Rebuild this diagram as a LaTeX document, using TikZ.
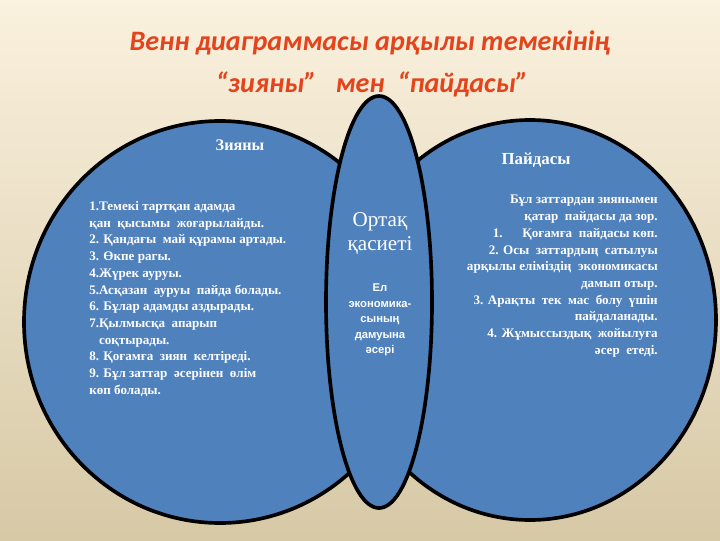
\documentclass[tikz,border=0pt]{standalone}
\usepackage{fontspec}
\setmainfont{Liberation Serif}
\newfontfamily\titlefont{Carlito}
\newfontfamily\labelfont{Liberation Sans}
\definecolor{bgtop}{HTML}{FAF1DE}
\definecolor{bgbottom}{HTML}{D7C9A6}
\definecolor{vennblue}{HTML}{4F81BD}
\definecolor{titlered}{HTML}{E4431B}

\begin{document}
\begin{tikzpicture}[x=0.025cm,y=-0.025cm,
  vennset/.style={fill=vennblue,draw=black,line width=2.6pt},
  every node/.style={text=white,inner sep=0pt},
  titletext/.style={text=titlered,font=\titlefont\bfseries\itshape\fontsize{20}{24}\selectfont},
  heading/.style={font=\bfseries\fontsize{11.5}{14}\selectfont},
  listtext/.style={font=\bfseries\fontsize{9.3}{11.9}\selectfont}]
  \shade[top color=bgtop,bottom color=bgbottom] (0,0) rectangle (720,540);
  \useasboundingbox (0,0) rectangle (720,540);

  \node[titletext] (title1) at (370,43) {Венн диаграммасы арқылы темекінің};
  \node[titletext] (title2) at (372,84) {“зияны”\ \ \ мен\ \ “пайдасы”};

  \draw[vennset] (220,322) ellipse [x radius=196,y radius=201];
  \draw[vennset] (530,320) ellipse [x radius=186,y radius=200];
  \draw[vennset] (379,302) ellipse [x radius=53,y radius=206];

  \node[heading] (harm) at (240,145) {Зияны};
  \node[heading,font=\fontsize{12}{14}\selectfont\bfseries] (benefit) at (536,160) {Пайдасы};

  \node[listtext,anchor=north west,align=left] (harmlist) at (89,201) {%
    1.Темекі тартқан адамда\\
    қан\ \ қысымы\ \ жоғарылайды.\\
    2. Қандағы\ \ май құрамы артады.\\
    3. Өкпе рагы.\\
    4.Жүрек ауруы.\\
    5.Асқазан\ \ ауруы\ \ пайда болады.\\
    6. Бұлар адамды аздырады.\\
    7.Қылмысқа\ \ апарып\\
    \ \ \ соқтырады.\\
    8. Қоғамға\ \ зиян\ \ келтіреді.\\
    9. Бұл заттар\ \ әсерінен\ \ өлім\\
    көп болады.};

  \node[listtext,anchor=north east,align=right] (benefitlist) at (658,195) {%
    Бұл заттардан зиянымен\hspace{4pt}\\
    қатар\ \ пайдасы да зор.\\
    1.\hspace{14pt}Қоғамға\ \ пайдасы көп.\\
    2. Осы\ \ заттардың\ \ сатылуы\hspace{4pt}\\
    арқылы еліміздің\ \ экономикасы\hspace{4pt}\\
    дамып отыр.\\
    3. Арақты\ \ тек\ \ мас\ \ болу\ \ үшін\hspace{8pt}\\
    пайдаланады.\\
    4. Жұмыссыздық\ \ жойылуға\\
    әсер\ \ етеді.};

  \node[font=\fontsize{15}{17}\selectfont,align=center] (common) at (380,234) {Ортақ\\қасиеті};
  \node[font=\labelfont\bfseries\fontsize{8}{11}\selectfont,align=center] (commonlist) at (380,320) {Ел\\экономика-\\сының\\дамуына\\әсері};
\end{tikzpicture}
\end{document}
